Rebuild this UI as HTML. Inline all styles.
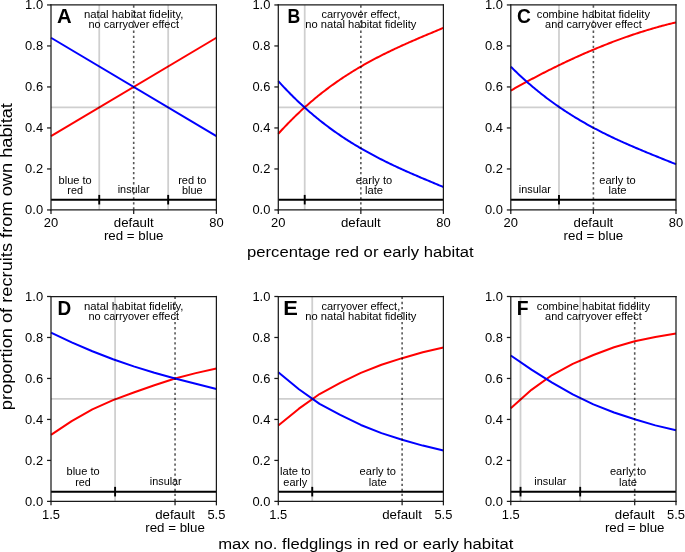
<!DOCTYPE html>
<html><head><meta charset="utf-8"><style>
html,body{margin:0;padding:0;background:#fff;}
svg{display:block;filter:blur(0.4px);}
text{font-family:"Liberation Sans",sans-serif;fill:#000;}
</style></head><body>
<svg width="685" height="552" viewBox="0 0 685 552">
<rect width="685" height="552" fill="#fff"/>
<polyline points="51.00,136.15 216.40,37.75" fill="none" stroke="#ff0000" stroke-width="2.0" stroke-linejoin="round" stroke-linecap="butt"/>
<polyline points="51.00,37.75 216.40,136.15" fill="none" stroke="#0000ff" stroke-width="2.0" stroke-linejoin="round" stroke-linecap="butt"/>
<line x1="51.00" y1="107.45" x2="216.40" y2="107.45" stroke="#000" stroke-width="1.8" stroke-opacity="0.19"/>
<line x1="99.24" y1="4.95" x2="99.24" y2="209.95" stroke="#000" stroke-width="1.8" stroke-opacity="0.19"/>
<line x1="168.16" y1="4.95" x2="168.16" y2="209.95" stroke="#000" stroke-width="1.8" stroke-opacity="0.19"/>
<line x1="133.70" y1="209.65" x2="133.70" y2="4.95" stroke="#000" stroke-width="1.6" stroke-opacity="0.66" stroke-dasharray="2.3 2.75"/>
<line x1="51.00" y1="199.70" x2="216.40" y2="199.70" stroke="#000" stroke-width="2.0" />
<line x1="99.24" y1="194.90" x2="99.24" y2="204.50" stroke="#000" stroke-width="1.9" />
<line x1="168.16" y1="194.90" x2="168.16" y2="204.50" stroke="#000" stroke-width="1.9" />
<text x="75.12" y="183.50" font-size="10.02" text-anchor="middle" textLength="33.09" lengthAdjust="spacingAndGlyphs">blue to</text>
<text x="75.12" y="194.00" font-size="10.02" text-anchor="middle" textLength="15.57" lengthAdjust="spacingAndGlyphs">red</text>
<text x="133.70" y="193.30" font-size="10.02" text-anchor="middle" textLength="32.00" lengthAdjust="spacingAndGlyphs">insular</text>
<text x="192.28" y="183.50" font-size="10.02" text-anchor="middle" textLength="28.13" lengthAdjust="spacingAndGlyphs">red to</text>
<text x="192.28" y="194.00" font-size="10.02" text-anchor="middle" textLength="20.54" lengthAdjust="spacingAndGlyphs">blue</text>
<text x="133.70" y="17.90" font-size="10.02" text-anchor="middle" textLength="99.36" lengthAdjust="spacingAndGlyphs">natal habitat fidelity,</text>
<text x="133.70" y="28.40" font-size="10.02" text-anchor="middle" textLength="90.55" lengthAdjust="spacingAndGlyphs">no carryover effect</text>
<text x="57.00" y="22.70" font-size="20.3" font-weight="bold" textLength="14.66" lengthAdjust="spacingAndGlyphs">A</text>
<line x1="51.00" y1="4.95" x2="216.40" y2="4.95" stroke="#1a1a1a" stroke-width="1.25" stroke-linecap="square"/>
<line x1="51.00" y1="209.95" x2="216.40" y2="209.95" stroke="#1a1a1a" stroke-width="1.25" stroke-linecap="square"/>
<line x1="51.00" y1="4.95" x2="51.00" y2="209.95" stroke="#1a1a1a" stroke-width="1.25" stroke-linecap="square"/>
<line x1="216.40" y1="4.95" x2="216.40" y2="209.95" stroke="#1a1a1a" stroke-width="1.25" stroke-linecap="square"/>
<line x1="47.04" y1="209.95" x2="51.00" y2="209.95" stroke="#1a1a1a" stroke-width="1.25" />
<text x="43.10" y="214.45" font-size="11.87" text-anchor="end" textLength="17.97" lengthAdjust="spacingAndGlyphs">0.0</text>
<line x1="47.04" y1="168.95" x2="51.00" y2="168.95" stroke="#1a1a1a" stroke-width="1.25" />
<text x="43.10" y="173.45" font-size="11.87" text-anchor="end" textLength="17.97" lengthAdjust="spacingAndGlyphs">0.2</text>
<line x1="47.04" y1="127.95" x2="51.00" y2="127.95" stroke="#1a1a1a" stroke-width="1.25" />
<text x="43.10" y="132.45" font-size="11.87" text-anchor="end" textLength="17.97" lengthAdjust="spacingAndGlyphs">0.4</text>
<line x1="47.04" y1="86.95" x2="51.00" y2="86.95" stroke="#1a1a1a" stroke-width="1.25" />
<text x="43.10" y="91.45" font-size="11.87" text-anchor="end" textLength="17.97" lengthAdjust="spacingAndGlyphs">0.6</text>
<line x1="47.04" y1="45.95" x2="51.00" y2="45.95" stroke="#1a1a1a" stroke-width="1.25" />
<text x="43.10" y="50.45" font-size="11.87" text-anchor="end" textLength="17.97" lengthAdjust="spacingAndGlyphs">0.8</text>
<line x1="47.04" y1="4.95" x2="51.00" y2="4.95" stroke="#1a1a1a" stroke-width="1.25" />
<text x="43.10" y="9.45" font-size="11.87" text-anchor="end" textLength="17.97" lengthAdjust="spacingAndGlyphs">1.0</text>
<line x1="51.00" y1="209.95" x2="51.00" y2="213.91" stroke="#1a1a1a" stroke-width="1.25" />
<text x="51.00" y="227.20" font-size="12.09" text-anchor="middle" textLength="14.38" lengthAdjust="spacingAndGlyphs">20</text>
<line x1="133.70" y1="209.95" x2="133.70" y2="213.91" stroke="#1a1a1a" stroke-width="1.25" />
<text x="133.70" y="227.20" font-size="12.09" text-anchor="middle" textLength="39.76" lengthAdjust="spacingAndGlyphs">default</text>
<text x="133.70" y="240.00" font-size="12.09" text-anchor="middle" textLength="59.60" lengthAdjust="spacingAndGlyphs">red = blue</text>
<line x1="216.40" y1="209.95" x2="216.40" y2="213.91" stroke="#1a1a1a" stroke-width="1.25" />
<text x="216.40" y="227.20" font-size="12.09" text-anchor="middle" textLength="14.38" lengthAdjust="spacingAndGlyphs">80</text>
<polyline points="278.30,133.80 279.68,132.29 281.05,130.78 282.43,129.30 283.80,127.83 285.18,126.38 286.56,124.94 287.93,123.51 289.31,122.11 290.68,120.71 292.06,119.34 293.43,117.98 294.81,116.63 296.19,115.29 297.56,113.98 298.94,112.67 300.31,111.38 301.69,110.11 303.06,108.84 304.44,107.60 305.82,106.36 307.19,105.14 308.57,103.93 309.94,102.74 311.32,101.56 312.70,100.39 314.07,99.23 315.45,98.09 316.82,96.96 318.20,95.84 319.57,94.73 320.95,93.64 322.33,92.56 323.70,91.49 325.08,90.43 326.45,89.38 327.83,88.35 329.21,87.32 330.58,86.31 331.96,85.31 333.33,84.32 334.71,83.34 336.08,82.37 337.46,81.41 338.84,80.46 340.21,79.52 341.59,78.59 342.96,77.67 344.34,76.76 345.72,75.86 347.09,74.97 348.47,74.09 349.84,73.22 351.22,72.36 352.60,71.51 353.97,70.66 355.35,69.82 356.72,69.00 358.10,68.18 359.47,67.37 360.85,66.56 362.23,65.77 363.60,64.98 364.98,64.20 366.35,63.43 367.73,62.66 369.11,61.91 370.48,61.16 371.86,60.41 373.23,59.68 374.61,58.95 375.98,58.22 377.36,57.50 378.74,56.79 380.11,56.09 381.49,55.39 382.86,54.70 384.24,54.01 385.62,53.33 386.99,52.65 388.37,51.98 389.74,51.32 391.12,50.65 392.49,50.00 393.87,49.35 395.25,48.70 396.62,48.06 398.00,47.42 399.37,46.79 400.75,46.16 402.12,45.53 403.50,44.91 404.88,44.29 406.25,43.68 407.63,43.07 409.00,42.46 410.38,41.85 411.76,41.25 413.13,40.65 414.51,40.05 415.88,39.46 417.26,38.87 418.63,38.28 420.01,37.69 421.39,37.10 422.76,36.52 424.14,35.94 425.51,35.36 426.89,34.78 428.27,34.20 429.64,33.62 431.02,33.05 432.39,32.47 433.77,31.90 435.14,31.32 436.52,30.75 437.90,30.17 439.27,29.60 440.65,29.03 442.02,28.45 443.40,27.88" fill="none" stroke="#ff0000" stroke-width="2.0" stroke-linejoin="round" stroke-linecap="butt"/>
<polyline points="278.30,81.10 279.68,82.61 281.05,84.12 282.43,85.60 283.80,87.07 285.18,88.52 286.56,89.96 287.93,91.39 289.31,92.79 290.68,94.19 292.06,95.56 293.43,96.92 294.81,98.27 296.19,99.61 297.56,100.92 298.94,102.23 300.31,103.52 301.69,104.79 303.06,106.06 304.44,107.30 305.82,108.54 307.19,109.76 308.57,110.97 309.94,112.16 311.32,113.34 312.70,114.51 314.07,115.67 315.45,116.81 316.82,117.94 318.20,119.06 319.57,120.17 320.95,121.26 322.33,122.34 323.70,123.41 325.08,124.47 326.45,125.52 327.83,126.55 329.21,127.58 330.58,128.59 331.96,129.59 333.33,130.58 334.71,131.56 336.08,132.53 337.46,133.49 338.84,134.44 340.21,135.38 341.59,136.31 342.96,137.23 344.34,138.14 345.72,139.04 347.09,139.93 348.47,140.81 349.84,141.68 351.22,142.54 352.60,143.39 353.97,144.24 355.35,145.08 356.72,145.90 358.10,146.72 359.47,147.53 360.85,148.34 362.23,149.13 363.60,149.92 364.98,150.70 366.35,151.47 367.73,152.24 369.11,152.99 370.48,153.74 371.86,154.49 373.23,155.22 374.61,155.95 375.98,156.68 377.36,157.40 378.74,158.11 380.11,158.81 381.49,159.51 382.86,160.20 384.24,160.89 385.62,161.57 386.99,162.25 388.37,162.92 389.74,163.58 391.12,164.25 392.49,164.90 393.87,165.55 395.25,166.20 396.62,166.84 398.00,167.48 399.37,168.11 400.75,168.74 402.12,169.37 403.50,169.99 404.88,170.61 406.25,171.22 407.63,171.83 409.00,172.44 410.38,173.05 411.76,173.65 413.13,174.25 414.51,174.85 415.88,175.44 417.26,176.03 418.63,176.62 420.01,177.21 421.39,177.80 422.76,178.38 424.14,178.96 425.51,179.54 426.89,180.12 428.27,180.70 429.64,181.28 431.02,181.85 432.39,182.43 433.77,183.00 435.14,183.58 436.52,184.15 437.90,184.73 439.27,185.30 440.65,185.87 442.02,186.45 443.40,187.02" fill="none" stroke="#0000ff" stroke-width="2.0" stroke-linejoin="round" stroke-linecap="butt"/>
<line x1="278.30" y1="107.45" x2="443.40" y2="107.45" stroke="#000" stroke-width="1.8" stroke-opacity="0.19"/>
<line x1="304.72" y1="4.95" x2="304.72" y2="209.95" stroke="#000" stroke-width="1.8" stroke-opacity="0.19"/>
<line x1="360.85" y1="209.65" x2="360.85" y2="4.95" stroke="#000" stroke-width="1.6" stroke-opacity="0.66" stroke-dasharray="2.3 2.75"/>
<line x1="278.30" y1="199.70" x2="443.40" y2="199.70" stroke="#000" stroke-width="2.0" />
<line x1="304.72" y1="194.90" x2="304.72" y2="204.50" stroke="#000" stroke-width="1.9" />
<text x="374.06" y="183.50" font-size="10.02" text-anchor="middle" textLength="36.39" lengthAdjust="spacingAndGlyphs">early to</text>
<text x="374.06" y="194.00" font-size="10.02" text-anchor="middle" textLength="18.03" lengthAdjust="spacingAndGlyphs">late</text>
<text x="360.85" y="17.90" font-size="10.02" text-anchor="middle" textLength="78.72" lengthAdjust="spacingAndGlyphs">carryover effect,</text>
<text x="360.85" y="28.40" font-size="10.02" text-anchor="middle" textLength="111.19" lengthAdjust="spacingAndGlyphs">no natal habitat fidelity</text>
<text x="287.40" y="22.70" font-size="20.3" font-weight="bold" textLength="12.75" lengthAdjust="spacingAndGlyphs">B</text>
<line x1="278.30" y1="4.95" x2="443.40" y2="4.95" stroke="#1a1a1a" stroke-width="1.25" stroke-linecap="square"/>
<line x1="278.30" y1="209.95" x2="443.40" y2="209.95" stroke="#1a1a1a" stroke-width="1.25" stroke-linecap="square"/>
<line x1="278.30" y1="4.95" x2="278.30" y2="209.95" stroke="#1a1a1a" stroke-width="1.25" stroke-linecap="square"/>
<line x1="443.40" y1="4.95" x2="443.40" y2="209.95" stroke="#1a1a1a" stroke-width="1.25" stroke-linecap="square"/>
<line x1="274.34" y1="209.95" x2="278.30" y2="209.95" stroke="#1a1a1a" stroke-width="1.25" />
<text x="270.40" y="214.45" font-size="11.87" text-anchor="end" textLength="17.97" lengthAdjust="spacingAndGlyphs">0.0</text>
<line x1="274.34" y1="168.95" x2="278.30" y2="168.95" stroke="#1a1a1a" stroke-width="1.25" />
<text x="270.40" y="173.45" font-size="11.87" text-anchor="end" textLength="17.97" lengthAdjust="spacingAndGlyphs">0.2</text>
<line x1="274.34" y1="127.95" x2="278.30" y2="127.95" stroke="#1a1a1a" stroke-width="1.25" />
<text x="270.40" y="132.45" font-size="11.87" text-anchor="end" textLength="17.97" lengthAdjust="spacingAndGlyphs">0.4</text>
<line x1="274.34" y1="86.95" x2="278.30" y2="86.95" stroke="#1a1a1a" stroke-width="1.25" />
<text x="270.40" y="91.45" font-size="11.87" text-anchor="end" textLength="17.97" lengthAdjust="spacingAndGlyphs">0.6</text>
<line x1="274.34" y1="45.95" x2="278.30" y2="45.95" stroke="#1a1a1a" stroke-width="1.25" />
<text x="270.40" y="50.45" font-size="11.87" text-anchor="end" textLength="17.97" lengthAdjust="spacingAndGlyphs">0.8</text>
<line x1="274.34" y1="4.95" x2="278.30" y2="4.95" stroke="#1a1a1a" stroke-width="1.25" />
<text x="270.40" y="9.45" font-size="11.87" text-anchor="end" textLength="17.97" lengthAdjust="spacingAndGlyphs">1.0</text>
<line x1="278.30" y1="209.95" x2="278.30" y2="213.91" stroke="#1a1a1a" stroke-width="1.25" />
<text x="278.30" y="227.20" font-size="12.09" text-anchor="middle" textLength="14.38" lengthAdjust="spacingAndGlyphs">20</text>
<line x1="360.85" y1="209.95" x2="360.85" y2="213.91" stroke="#1a1a1a" stroke-width="1.25" />
<text x="360.85" y="227.20" font-size="12.09" text-anchor="middle" textLength="39.76" lengthAdjust="spacingAndGlyphs">default</text>
<line x1="443.40" y1="209.95" x2="443.40" y2="213.91" stroke="#1a1a1a" stroke-width="1.25" />
<text x="443.40" y="227.20" font-size="12.09" text-anchor="middle" textLength="14.38" lengthAdjust="spacingAndGlyphs">80</text>
<polyline points="510.80,90.56 512.18,89.78 513.55,89.01 514.93,88.24 516.31,87.47 517.68,86.71 519.06,85.95 520.44,85.19 521.81,84.43 523.19,83.68 524.57,82.93 525.94,82.18 527.32,81.44 528.70,80.70 530.07,79.96 531.45,79.23 532.83,78.50 534.20,77.77 535.58,77.04 536.96,76.32 538.33,75.60 539.71,74.89 541.09,74.18 542.46,73.47 543.84,72.76 545.22,72.06 546.59,71.36 547.97,70.66 549.35,69.97 550.72,69.28 552.10,68.60 553.48,67.91 554.85,67.23 556.23,66.56 557.61,65.89 558.98,65.22 560.36,64.55 561.74,63.89 563.11,63.23 564.49,62.58 565.87,61.92 567.24,61.28 568.62,60.63 570.00,59.99 571.37,59.35 572.75,58.72 574.13,58.09 575.50,57.46 576.88,56.84 578.26,56.22 579.63,55.60 581.01,54.99 582.39,54.38 583.76,53.78 585.14,53.17 586.52,52.58 587.89,51.98 589.27,51.39 590.65,50.81 592.02,50.22 593.40,49.64 594.78,49.07 596.15,48.50 597.53,47.93 598.91,47.37 600.28,46.81 601.66,46.25 603.04,45.70 604.41,45.15 605.79,44.60 607.17,44.06 608.54,43.53 609.92,43.00 611.30,42.47 612.67,41.94 614.05,41.42 615.43,40.90 616.80,40.39 618.18,39.88 619.56,39.38 620.93,38.88 622.31,38.38 623.69,37.89 625.06,37.40 626.44,36.92 627.82,36.44 629.19,35.96 630.57,35.49 631.95,35.02 633.32,34.56 634.70,34.10 636.08,33.65 637.45,33.20 638.83,32.75 640.21,32.31 641.58,31.87 642.96,31.44 644.34,31.01 645.71,30.58 647.09,30.16 648.47,29.75 649.84,29.34 651.22,28.93 652.60,28.53 653.97,28.13 655.35,27.73 656.73,27.34 658.10,26.96 659.48,26.58 660.86,26.20 662.23,25.83 663.61,25.46 664.99,25.10 666.36,24.74 667.74,24.39 669.12,24.04 670.49,23.70 671.87,23.36 673.25,23.02 674.62,22.69 676.00,22.37" fill="none" stroke="#ff0000" stroke-width="2.0" stroke-linejoin="round" stroke-linecap="butt"/>
<polyline points="510.80,66.67 512.18,68.04 513.55,69.40 514.93,70.74 516.31,72.06 517.68,73.37 519.06,74.67 520.44,75.96 521.81,77.23 523.19,78.49 524.57,79.73 525.94,80.96 527.32,82.18 528.70,83.39 530.07,84.58 531.45,85.76 532.83,86.93 534.20,88.08 535.58,89.22 536.96,90.35 538.33,91.47 539.71,92.58 541.09,93.67 542.46,94.76 543.84,95.83 545.22,96.89 546.59,97.94 547.97,98.97 549.35,100.00 550.72,101.02 552.10,102.02 553.48,103.01 554.85,104.00 556.23,104.97 557.61,105.93 558.98,106.89 560.36,107.83 561.74,108.76 563.11,109.69 564.49,110.60 565.87,111.50 567.24,112.40 568.62,113.28 570.00,114.16 571.37,115.03 572.75,115.88 574.13,116.73 575.50,117.57 576.88,118.41 578.26,119.23 579.63,120.05 581.01,120.85 582.39,121.65 583.76,122.44 585.14,123.23 586.52,124.01 587.89,124.77 589.27,125.54 590.65,126.29 592.02,127.04 593.40,127.78 594.78,128.51 596.15,129.24 597.53,129.96 598.91,130.67 600.28,131.38 601.66,132.08 603.04,132.78 604.41,133.46 605.79,134.15 607.17,134.82 608.54,135.50 609.92,136.16 611.30,136.82 612.67,137.48 614.05,138.13 615.43,138.78 616.80,139.42 618.18,140.06 619.56,140.69 620.93,141.31 622.31,141.94 623.69,142.56 625.06,143.17 626.44,143.78 627.82,144.39 629.19,144.99 630.57,145.59 631.95,146.19 633.32,146.78 634.70,147.37 636.08,147.96 637.45,148.54 638.83,149.13 640.21,149.70 641.58,150.28 642.96,150.85 644.34,151.43 645.71,152.00 647.09,152.56 648.47,153.13 649.84,153.69 651.22,154.25 652.60,154.82 653.97,155.37 655.35,155.93 656.73,156.49 658.10,157.04 659.48,157.60 660.86,158.15 662.23,158.71 663.61,159.26 664.99,159.81 666.36,160.37 667.74,160.92 669.12,161.47 670.49,162.02 671.87,162.58 673.25,163.13 674.62,163.68 676.00,164.24" fill="none" stroke="#0000ff" stroke-width="2.0" stroke-linejoin="round" stroke-linecap="butt"/>
<line x1="510.80" y1="107.45" x2="676.00" y2="107.45" stroke="#000" stroke-width="1.8" stroke-opacity="0.19"/>
<line x1="558.98" y1="4.95" x2="558.98" y2="209.95" stroke="#000" stroke-width="1.8" stroke-opacity="0.19"/>
<line x1="593.40" y1="209.65" x2="593.40" y2="4.95" stroke="#000" stroke-width="1.6" stroke-opacity="0.66" stroke-dasharray="2.3 2.75"/>
<line x1="510.80" y1="199.70" x2="676.00" y2="199.70" stroke="#000" stroke-width="2.0" />
<line x1="558.98" y1="194.90" x2="558.98" y2="204.50" stroke="#000" stroke-width="1.9" />
<text x="534.89" y="193.30" font-size="10.02" text-anchor="middle" textLength="32.00" lengthAdjust="spacingAndGlyphs">insular</text>
<text x="617.49" y="183.50" font-size="10.02" text-anchor="middle" textLength="36.39" lengthAdjust="spacingAndGlyphs">early to</text>
<text x="617.49" y="194.00" font-size="10.02" text-anchor="middle" textLength="18.03" lengthAdjust="spacingAndGlyphs">late</text>
<text x="593.40" y="17.90" font-size="10.02" text-anchor="middle" textLength="113.13" lengthAdjust="spacingAndGlyphs">combine habitat fidelity</text>
<text x="593.40" y="28.40" font-size="10.02" text-anchor="middle" textLength="96.59" lengthAdjust="spacingAndGlyphs">and carryover effect</text>
<text x="517.00" y="22.70" font-size="20.3" font-weight="bold" textLength="13.87" lengthAdjust="spacingAndGlyphs">C</text>
<line x1="510.80" y1="4.95" x2="676.00" y2="4.95" stroke="#1a1a1a" stroke-width="1.25" stroke-linecap="square"/>
<line x1="510.80" y1="209.95" x2="676.00" y2="209.95" stroke="#1a1a1a" stroke-width="1.25" stroke-linecap="square"/>
<line x1="510.80" y1="4.95" x2="510.80" y2="209.95" stroke="#1a1a1a" stroke-width="1.25" stroke-linecap="square"/>
<line x1="676.00" y1="4.95" x2="676.00" y2="209.95" stroke="#1a1a1a" stroke-width="1.25" stroke-linecap="square"/>
<line x1="506.84" y1="209.95" x2="510.80" y2="209.95" stroke="#1a1a1a" stroke-width="1.25" />
<text x="502.90" y="214.45" font-size="11.87" text-anchor="end" textLength="17.97" lengthAdjust="spacingAndGlyphs">0.0</text>
<line x1="506.84" y1="168.95" x2="510.80" y2="168.95" stroke="#1a1a1a" stroke-width="1.25" />
<text x="502.90" y="173.45" font-size="11.87" text-anchor="end" textLength="17.97" lengthAdjust="spacingAndGlyphs">0.2</text>
<line x1="506.84" y1="127.95" x2="510.80" y2="127.95" stroke="#1a1a1a" stroke-width="1.25" />
<text x="502.90" y="132.45" font-size="11.87" text-anchor="end" textLength="17.97" lengthAdjust="spacingAndGlyphs">0.4</text>
<line x1="506.84" y1="86.95" x2="510.80" y2="86.95" stroke="#1a1a1a" stroke-width="1.25" />
<text x="502.90" y="91.45" font-size="11.87" text-anchor="end" textLength="17.97" lengthAdjust="spacingAndGlyphs">0.6</text>
<line x1="506.84" y1="45.95" x2="510.80" y2="45.95" stroke="#1a1a1a" stroke-width="1.25" />
<text x="502.90" y="50.45" font-size="11.87" text-anchor="end" textLength="17.97" lengthAdjust="spacingAndGlyphs">0.8</text>
<line x1="506.84" y1="4.95" x2="510.80" y2="4.95" stroke="#1a1a1a" stroke-width="1.25" />
<text x="502.90" y="9.45" font-size="11.87" text-anchor="end" textLength="17.97" lengthAdjust="spacingAndGlyphs">1.0</text>
<line x1="510.80" y1="209.95" x2="510.80" y2="213.91" stroke="#1a1a1a" stroke-width="1.25" />
<text x="510.80" y="227.20" font-size="12.09" text-anchor="middle" textLength="14.38" lengthAdjust="spacingAndGlyphs">20</text>
<line x1="593.40" y1="209.95" x2="593.40" y2="213.91" stroke="#1a1a1a" stroke-width="1.25" />
<text x="593.40" y="227.20" font-size="12.09" text-anchor="middle" textLength="39.76" lengthAdjust="spacingAndGlyphs">default</text>
<text x="593.40" y="240.00" font-size="12.09" text-anchor="middle" textLength="59.60" lengthAdjust="spacingAndGlyphs">red = blue</text>
<line x1="676.00" y1="209.95" x2="676.00" y2="213.91" stroke="#1a1a1a" stroke-width="1.25" />
<text x="676.00" y="227.20" font-size="12.09" text-anchor="middle" textLength="14.38" lengthAdjust="spacingAndGlyphs">80</text>
<polyline points="51.00,434.81 71.67,421.08 92.35,409.30 113.03,400.10 133.70,392.50 154.38,385.22 175.05,378.50 195.72,373.13 216.40,368.42" fill="none" stroke="#ff0000" stroke-width="2.0" stroke-linejoin="round" stroke-linecap="butt"/>
<polyline points="51.00,332.56 71.67,342.40 92.35,351.21 113.03,359.20 133.70,366.37 154.38,372.72 175.05,378.46 195.72,383.79 216.40,388.91" fill="none" stroke="#0000ff" stroke-width="2.0" stroke-linejoin="round" stroke-linecap="butt"/>
<line x1="51.00" y1="398.95" x2="216.40" y2="398.95" stroke="#000" stroke-width="1.8" stroke-opacity="0.19"/>
<line x1="115.09" y1="296.50" x2="115.09" y2="501.40" stroke="#000" stroke-width="1.8" stroke-opacity="0.19"/>
<line x1="175.05" y1="501.10" x2="175.05" y2="296.50" stroke="#000" stroke-width="1.6" stroke-opacity="0.66" stroke-dasharray="2.3 2.75"/>
<line x1="51.00" y1="491.65" x2="216.40" y2="491.65" stroke="#000" stroke-width="2.0" />
<line x1="115.09" y1="486.85" x2="115.09" y2="496.45" stroke="#000" stroke-width="1.9" />
<text x="83.05" y="475.05" font-size="10.02" text-anchor="middle" textLength="33.09" lengthAdjust="spacingAndGlyphs">blue to</text>
<text x="83.05" y="485.55" font-size="10.02" text-anchor="middle" textLength="15.57" lengthAdjust="spacingAndGlyphs">red</text>
<text x="165.75" y="484.85" font-size="10.02" text-anchor="middle" textLength="32.00" lengthAdjust="spacingAndGlyphs">insular</text>
<text x="133.70" y="309.80" font-size="10.02" text-anchor="middle" textLength="99.36" lengthAdjust="spacingAndGlyphs">natal habitat fidelity,</text>
<text x="133.70" y="320.30" font-size="10.02" text-anchor="middle" textLength="90.55" lengthAdjust="spacingAndGlyphs">no carryover effect</text>
<text x="57.60" y="314.90" font-size="20.3" font-weight="bold" textLength="13.70" lengthAdjust="spacingAndGlyphs">D</text>
<line x1="51.00" y1="296.50" x2="216.40" y2="296.50" stroke="#1a1a1a" stroke-width="1.25" stroke-linecap="square"/>
<line x1="51.00" y1="501.40" x2="216.40" y2="501.40" stroke="#1a1a1a" stroke-width="1.25" stroke-linecap="square"/>
<line x1="51.00" y1="296.50" x2="51.00" y2="501.40" stroke="#1a1a1a" stroke-width="1.25" stroke-linecap="square"/>
<line x1="216.40" y1="296.50" x2="216.40" y2="501.40" stroke="#1a1a1a" stroke-width="1.25" stroke-linecap="square"/>
<line x1="47.04" y1="501.40" x2="51.00" y2="501.40" stroke="#1a1a1a" stroke-width="1.25" />
<text x="43.10" y="505.90" font-size="11.87" text-anchor="end" textLength="17.97" lengthAdjust="spacingAndGlyphs">0.0</text>
<line x1="47.04" y1="460.42" x2="51.00" y2="460.42" stroke="#1a1a1a" stroke-width="1.25" />
<text x="43.10" y="464.92" font-size="11.87" text-anchor="end" textLength="17.97" lengthAdjust="spacingAndGlyphs">0.2</text>
<line x1="47.04" y1="419.44" x2="51.00" y2="419.44" stroke="#1a1a1a" stroke-width="1.25" />
<text x="43.10" y="423.94" font-size="11.87" text-anchor="end" textLength="17.97" lengthAdjust="spacingAndGlyphs">0.4</text>
<line x1="47.04" y1="378.46" x2="51.00" y2="378.46" stroke="#1a1a1a" stroke-width="1.25" />
<text x="43.10" y="382.96" font-size="11.87" text-anchor="end" textLength="17.97" lengthAdjust="spacingAndGlyphs">0.6</text>
<line x1="47.04" y1="337.48" x2="51.00" y2="337.48" stroke="#1a1a1a" stroke-width="1.25" />
<text x="43.10" y="341.98" font-size="11.87" text-anchor="end" textLength="17.97" lengthAdjust="spacingAndGlyphs">0.8</text>
<line x1="47.04" y1="296.50" x2="51.00" y2="296.50" stroke="#1a1a1a" stroke-width="1.25" />
<text x="43.10" y="301.00" font-size="11.87" text-anchor="end" textLength="17.97" lengthAdjust="spacingAndGlyphs">1.0</text>
<line x1="51.00" y1="501.40" x2="51.00" y2="505.36" stroke="#1a1a1a" stroke-width="1.25" />
<text x="51.00" y="518.75" font-size="12.09" text-anchor="middle" textLength="17.97" lengthAdjust="spacingAndGlyphs">1.5</text>
<line x1="175.05" y1="501.40" x2="175.05" y2="505.36" stroke="#1a1a1a" stroke-width="1.25" />
<text x="175.05" y="518.75" font-size="12.09" text-anchor="middle" textLength="39.76" lengthAdjust="spacingAndGlyphs">default</text>
<text x="175.05" y="531.55" font-size="12.09" text-anchor="middle" textLength="59.60" lengthAdjust="spacingAndGlyphs">red = blue</text>
<line x1="216.40" y1="501.40" x2="216.40" y2="505.36" stroke="#1a1a1a" stroke-width="1.25" />
<text x="216.40" y="518.75" font-size="12.09" text-anchor="middle" textLength="17.97" lengthAdjust="spacingAndGlyphs">5.5</text>
<polyline points="278.30,425.59 298.94,408.68 319.57,394.03 340.21,382.97 360.85,372.93 381.49,364.73 402.12,358.17 422.76,352.31 443.40,347.42" fill="none" stroke="#ff0000" stroke-width="2.0" stroke-linejoin="round" stroke-linecap="butt"/>
<polyline points="278.30,372.31 298.94,389.22 319.57,403.87 340.21,414.93 360.85,424.97 381.49,433.17 402.12,439.73 422.76,445.59 443.40,450.48" fill="none" stroke="#0000ff" stroke-width="2.0" stroke-linejoin="round" stroke-linecap="butt"/>
<line x1="278.30" y1="398.95" x2="443.40" y2="398.95" stroke="#000" stroke-width="1.8" stroke-opacity="0.19"/>
<line x1="312.23" y1="296.50" x2="312.23" y2="501.40" stroke="#000" stroke-width="1.8" stroke-opacity="0.19"/>
<line x1="402.12" y1="501.10" x2="402.12" y2="296.50" stroke="#000" stroke-width="1.6" stroke-opacity="0.66" stroke-dasharray="2.3 2.75"/>
<line x1="278.30" y1="491.65" x2="443.40" y2="491.65" stroke="#000" stroke-width="2.0" />
<line x1="312.23" y1="486.85" x2="312.23" y2="496.45" stroke="#000" stroke-width="1.9" />
<text x="295.26" y="475.05" font-size="10.02" text-anchor="middle" textLength="30.59" lengthAdjust="spacingAndGlyphs">late to</text>
<text x="295.26" y="485.55" font-size="10.02" text-anchor="middle" textLength="23.83" lengthAdjust="spacingAndGlyphs">early</text>
<text x="377.81" y="475.05" font-size="10.02" text-anchor="middle" textLength="36.39" lengthAdjust="spacingAndGlyphs">early to</text>
<text x="377.81" y="485.55" font-size="10.02" text-anchor="middle" textLength="18.03" lengthAdjust="spacingAndGlyphs">late</text>
<text x="360.85" y="309.80" font-size="10.02" text-anchor="middle" textLength="78.72" lengthAdjust="spacingAndGlyphs">carryover effect,</text>
<text x="360.85" y="320.30" font-size="10.02" text-anchor="middle" textLength="111.19" lengthAdjust="spacingAndGlyphs">no natal habitat fidelity</text>
<text x="283.20" y="314.90" font-size="20.3" font-weight="bold" textLength="14.60" lengthAdjust="spacingAndGlyphs">E</text>
<line x1="278.30" y1="296.50" x2="443.40" y2="296.50" stroke="#1a1a1a" stroke-width="1.25" stroke-linecap="square"/>
<line x1="278.30" y1="501.40" x2="443.40" y2="501.40" stroke="#1a1a1a" stroke-width="1.25" stroke-linecap="square"/>
<line x1="278.30" y1="296.50" x2="278.30" y2="501.40" stroke="#1a1a1a" stroke-width="1.25" stroke-linecap="square"/>
<line x1="443.40" y1="296.50" x2="443.40" y2="501.40" stroke="#1a1a1a" stroke-width="1.25" stroke-linecap="square"/>
<line x1="274.34" y1="501.40" x2="278.30" y2="501.40" stroke="#1a1a1a" stroke-width="1.25" />
<text x="270.40" y="505.90" font-size="11.87" text-anchor="end" textLength="17.97" lengthAdjust="spacingAndGlyphs">0.0</text>
<line x1="274.34" y1="460.42" x2="278.30" y2="460.42" stroke="#1a1a1a" stroke-width="1.25" />
<text x="270.40" y="464.92" font-size="11.87" text-anchor="end" textLength="17.97" lengthAdjust="spacingAndGlyphs">0.2</text>
<line x1="274.34" y1="419.44" x2="278.30" y2="419.44" stroke="#1a1a1a" stroke-width="1.25" />
<text x="270.40" y="423.94" font-size="11.87" text-anchor="end" textLength="17.97" lengthAdjust="spacingAndGlyphs">0.4</text>
<line x1="274.34" y1="378.46" x2="278.30" y2="378.46" stroke="#1a1a1a" stroke-width="1.25" />
<text x="270.40" y="382.96" font-size="11.87" text-anchor="end" textLength="17.97" lengthAdjust="spacingAndGlyphs">0.6</text>
<line x1="274.34" y1="337.48" x2="278.30" y2="337.48" stroke="#1a1a1a" stroke-width="1.25" />
<text x="270.40" y="341.98" font-size="11.87" text-anchor="end" textLength="17.97" lengthAdjust="spacingAndGlyphs">0.8</text>
<line x1="274.34" y1="296.50" x2="278.30" y2="296.50" stroke="#1a1a1a" stroke-width="1.25" />
<text x="270.40" y="301.00" font-size="11.87" text-anchor="end" textLength="17.97" lengthAdjust="spacingAndGlyphs">1.0</text>
<line x1="278.30" y1="501.40" x2="278.30" y2="505.36" stroke="#1a1a1a" stroke-width="1.25" />
<text x="278.30" y="518.75" font-size="12.09" text-anchor="middle" textLength="17.97" lengthAdjust="spacingAndGlyphs">1.5</text>
<line x1="402.12" y1="501.40" x2="402.12" y2="505.36" stroke="#1a1a1a" stroke-width="1.25" />
<text x="402.12" y="518.75" font-size="12.09" text-anchor="middle" textLength="39.76" lengthAdjust="spacingAndGlyphs">default</text>
<line x1="443.40" y1="501.40" x2="443.40" y2="505.36" stroke="#1a1a1a" stroke-width="1.25" />
<text x="443.40" y="518.75" font-size="12.09" text-anchor="middle" textLength="17.97" lengthAdjust="spacingAndGlyphs">5.5</text>
<polyline points="510.80,408.25 531.45,389.85 552.10,375.06 572.75,363.87 593.40,354.98 614.05,347.19 634.70,341.29 655.35,337.01 676.00,333.50" fill="none" stroke="#ff0000" stroke-width="2.0" stroke-linejoin="round" stroke-linecap="butt"/>
<polyline points="510.80,355.51 531.45,369.65 552.10,382.56 572.75,394.44 593.40,404.38 614.05,412.47 634.70,419.30 655.35,425.38 676.00,430.20" fill="none" stroke="#0000ff" stroke-width="2.0" stroke-linejoin="round" stroke-linecap="butt"/>
<line x1="510.80" y1="398.95" x2="676.00" y2="398.95" stroke="#000" stroke-width="1.8" stroke-opacity="0.19"/>
<line x1="520.51" y1="296.50" x2="520.51" y2="501.40" stroke="#000" stroke-width="1.8" stroke-opacity="0.19"/>
<line x1="580.18" y1="296.50" x2="580.18" y2="501.40" stroke="#000" stroke-width="1.8" stroke-opacity="0.19"/>
<line x1="634.70" y1="501.10" x2="634.70" y2="296.50" stroke="#000" stroke-width="1.6" stroke-opacity="0.66" stroke-dasharray="2.3 2.75"/>
<line x1="510.80" y1="491.65" x2="676.00" y2="491.65" stroke="#000" stroke-width="2.0" />
<line x1="520.51" y1="486.85" x2="520.51" y2="496.45" stroke="#000" stroke-width="1.9" />
<line x1="580.18" y1="486.85" x2="580.18" y2="496.45" stroke="#000" stroke-width="1.9" />
<text x="550.34" y="484.85" font-size="10.02" text-anchor="middle" textLength="32.00" lengthAdjust="spacingAndGlyphs">insular</text>
<text x="628.09" y="475.05" font-size="10.02" text-anchor="middle" textLength="36.39" lengthAdjust="spacingAndGlyphs">early to</text>
<text x="628.09" y="485.55" font-size="10.02" text-anchor="middle" textLength="18.03" lengthAdjust="spacingAndGlyphs">late</text>
<text x="593.40" y="309.80" font-size="10.02" text-anchor="middle" textLength="113.13" lengthAdjust="spacingAndGlyphs">combine habitat fidelity</text>
<text x="593.40" y="320.30" font-size="10.02" text-anchor="middle" textLength="96.59" lengthAdjust="spacingAndGlyphs">and carryover effect</text>
<text x="516.80" y="314.90" font-size="20.3" font-weight="bold" textLength="11.80" lengthAdjust="spacingAndGlyphs">F</text>
<line x1="510.80" y1="296.50" x2="676.00" y2="296.50" stroke="#1a1a1a" stroke-width="1.25" stroke-linecap="square"/>
<line x1="510.80" y1="501.40" x2="676.00" y2="501.40" stroke="#1a1a1a" stroke-width="1.25" stroke-linecap="square"/>
<line x1="510.80" y1="296.50" x2="510.80" y2="501.40" stroke="#1a1a1a" stroke-width="1.25" stroke-linecap="square"/>
<line x1="676.00" y1="296.50" x2="676.00" y2="501.40" stroke="#1a1a1a" stroke-width="1.25" stroke-linecap="square"/>
<line x1="506.84" y1="501.40" x2="510.80" y2="501.40" stroke="#1a1a1a" stroke-width="1.25" />
<text x="502.90" y="505.90" font-size="11.87" text-anchor="end" textLength="17.97" lengthAdjust="spacingAndGlyphs">0.0</text>
<line x1="506.84" y1="460.42" x2="510.80" y2="460.42" stroke="#1a1a1a" stroke-width="1.25" />
<text x="502.90" y="464.92" font-size="11.87" text-anchor="end" textLength="17.97" lengthAdjust="spacingAndGlyphs">0.2</text>
<line x1="506.84" y1="419.44" x2="510.80" y2="419.44" stroke="#1a1a1a" stroke-width="1.25" />
<text x="502.90" y="423.94" font-size="11.87" text-anchor="end" textLength="17.97" lengthAdjust="spacingAndGlyphs">0.4</text>
<line x1="506.84" y1="378.46" x2="510.80" y2="378.46" stroke="#1a1a1a" stroke-width="1.25" />
<text x="502.90" y="382.96" font-size="11.87" text-anchor="end" textLength="17.97" lengthAdjust="spacingAndGlyphs">0.6</text>
<line x1="506.84" y1="337.48" x2="510.80" y2="337.48" stroke="#1a1a1a" stroke-width="1.25" />
<text x="502.90" y="341.98" font-size="11.87" text-anchor="end" textLength="17.97" lengthAdjust="spacingAndGlyphs">0.8</text>
<line x1="506.84" y1="296.50" x2="510.80" y2="296.50" stroke="#1a1a1a" stroke-width="1.25" />
<text x="502.90" y="301.00" font-size="11.87" text-anchor="end" textLength="17.97" lengthAdjust="spacingAndGlyphs">1.0</text>
<line x1="510.80" y1="501.40" x2="510.80" y2="505.36" stroke="#1a1a1a" stroke-width="1.25" />
<text x="510.80" y="518.75" font-size="12.09" text-anchor="middle" textLength="17.97" lengthAdjust="spacingAndGlyphs">1.5</text>
<line x1="634.70" y1="501.40" x2="634.70" y2="505.36" stroke="#1a1a1a" stroke-width="1.25" />
<text x="634.70" y="518.75" font-size="12.09" text-anchor="middle" textLength="39.76" lengthAdjust="spacingAndGlyphs">default</text>
<text x="634.70" y="531.55" font-size="12.09" text-anchor="middle" textLength="59.60" lengthAdjust="spacingAndGlyphs">red = blue</text>
<line x1="676.00" y1="501.40" x2="676.00" y2="505.36" stroke="#1a1a1a" stroke-width="1.25" />
<text x="676.00" y="518.75" font-size="12.09" text-anchor="middle" textLength="17.97" lengthAdjust="spacingAndGlyphs">5.5</text>
<text x="360.40" y="257.15" font-size="15.24" text-anchor="middle" textLength="226.74" lengthAdjust="spacingAndGlyphs">percentage red or early habitat</text>
<text x="365.80" y="548.60" font-size="15.22" text-anchor="middle" textLength="295.07" lengthAdjust="spacingAndGlyphs">max no. fledglings in red or early habitat</text>
<text transform="translate(12.00,256.65) rotate(-90)" x="0" y="0" font-size="16.62" text-anchor="middle" textLength="307.11" lengthAdjust="spacingAndGlyphs">proportion of recruits from own habitat</text>
</svg>
</body></html>
